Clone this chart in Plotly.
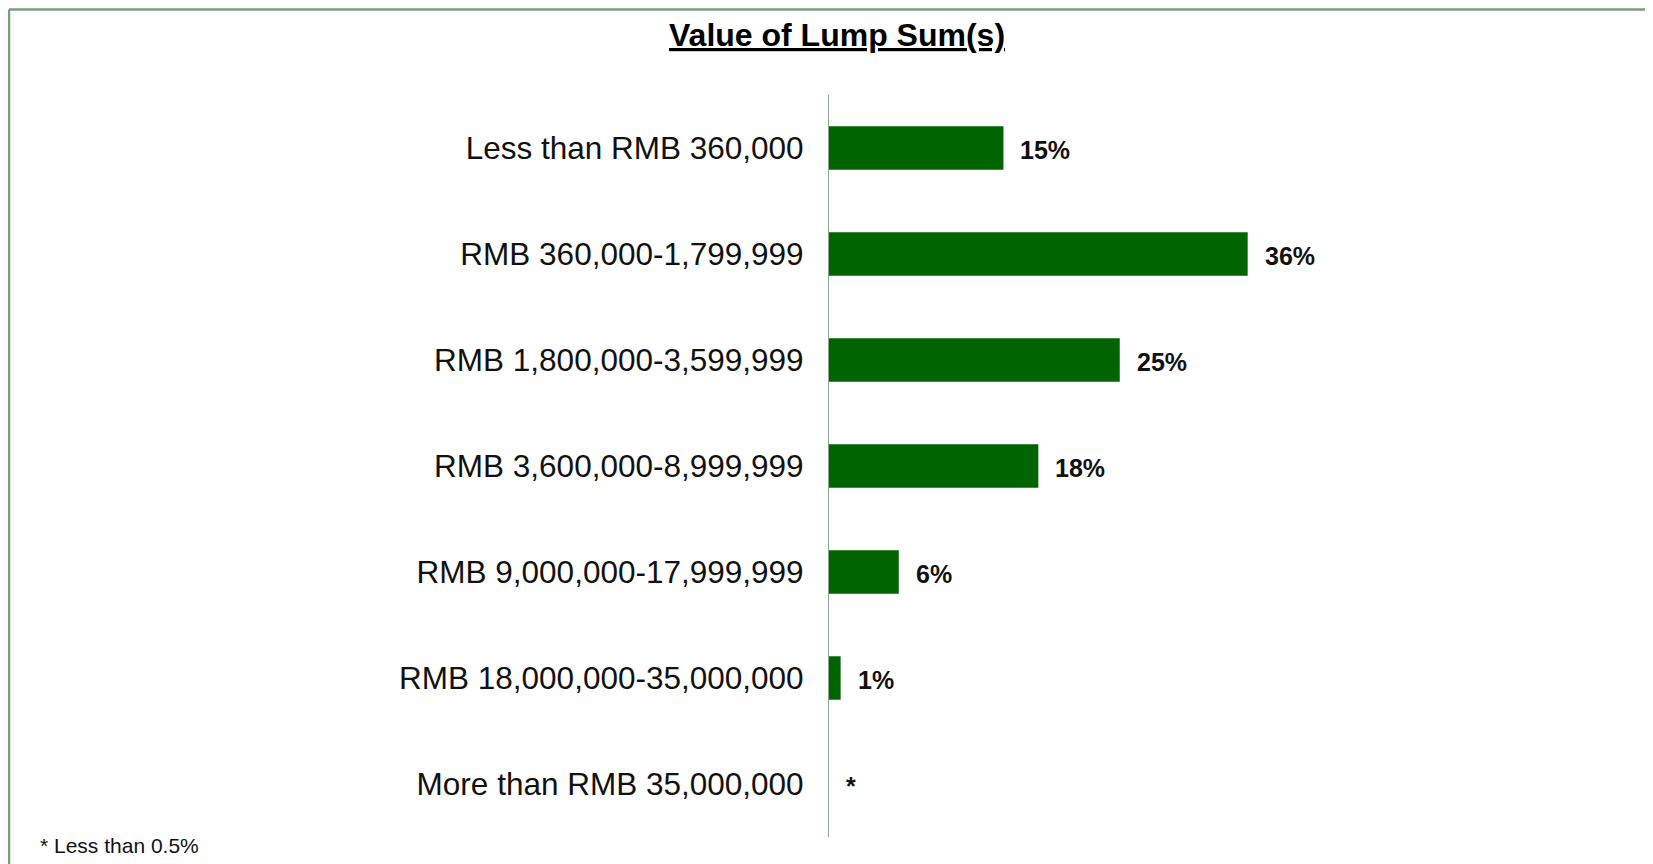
import plotly.graph_objects as go

categories = [
    "Less than RMB 360,000",
    "RMB 360,000-1,799,999",
    "RMB 1,800,000-3,599,999",
    "RMB 3,600,000-8,999,999",
    "RMB 9,000,000-17,999,999",
    "RMB 18,000,000-35,000,000",
    "More than RMB 35,000,000",
]
values = [15, 36, 25, 18, 6, 1, 0]
value_labels = ["15%", "36%", "25%", "18%", "6%", "1%", "*"]

# page offset introduced by the default body margin
OFF = 8
W, H = 1653, 864
# page-pixel layout targets
AX_X, PLOT_TOP, PLOT_BOT, PLOT_RIGHT = 829, 95, 837, 1527
L = AX_X - OFF
T = PLOT_TOP - OFF
B = H - (PLOT_BOT - OFF)
R = W - (PLOT_RIGHT - OFF)
plot_w = W - L - R
plot_h = H - T - B
border_col = "#7a9e7a"


def px_x(p):  # page x -> paper x
    return (p - AX_X) / plot_w


def px_y(p):  # page y -> paper y
    return (PLOT_BOT - p) / plot_h


fig = go.Figure()
fig.add_trace(go.Bar(
    x=values, y=categories, orientation="h",
    marker=dict(color="#006400", line=dict(width=0)),
    width=0.41, hoverinfo="skip",
))

annotations = []
for c, v, t in zip(categories, values, value_labels):
    annotations.append(dict(
        x=v, y=c, xref="x", yref="y", text=t, showarrow=False,
        xanchor="left", yanchor="middle", xshift=15, yshift=-2,
        font=dict(family="Liberation Sans, Arial", size=25, color="#111111",
                  weight="bold"),
    ))

annotations.append(dict(
    x=px_x(38), y=px_y(845), xref="paper", yref="paper",
    text="* Less than 0.5%", showarrow=False, xanchor="left", yanchor="middle",
    font=dict(family="Liberation Sans, Arial", size=21, color="#111111"),
))
annotations.append(dict(
    x=px_x(837), y=px_y(35), xref="paper", yref="paper",
    text="<u>Value of Lump Sum(s)</u>", showarrow=False, xanchor="center",
    yanchor="middle",
    font=dict(family="Liberation Sans, Arial", size=32, color="#000000",
              weight="bold"),
))

TOP_LINE = OFF + 1.5
shapes = [
    dict(type="line", xref="paper", yref="paper",
         x0=px_x(9), x1=px_x(W + 20), y0=px_y(TOP_LINE), y1=px_y(TOP_LINE),
         line=dict(color=border_col, width=2.5)),
    dict(type="line", xref="paper", yref="paper",
         x0=px_x(9), x1=px_x(9), y0=px_y(TOP_LINE), y1=px_y(H + 20),
         line=dict(color=border_col, width=2.5)),
]

fig.update_layout(
    width=W, height=H,
    margin=dict(l=L, r=R, t=T, b=B, autoexpand=False),
    paper_bgcolor="white", plot_bgcolor="white",
    showlegend=False,
    annotations=annotations,
    shapes=shapes,
    xaxis=dict(range=[0, plot_w / 11.63], showgrid=False, zeroline=False,
               showticklabels=False, showline=False, fixedrange=True),
    yaxis=dict(categoryorder="array", categoryarray=categories,
               range=[6.5, -0.5], showgrid=False, zeroline=False,
               showline=True, linecolor="#8aa88a", linewidth=1.2,
               ticks="", ticklabelstandoff=18,
               tickfont=dict(family="Liberation Sans, Arial", size=31.5,
                             color="#111111")),
)

fig.write_html("out.html")
